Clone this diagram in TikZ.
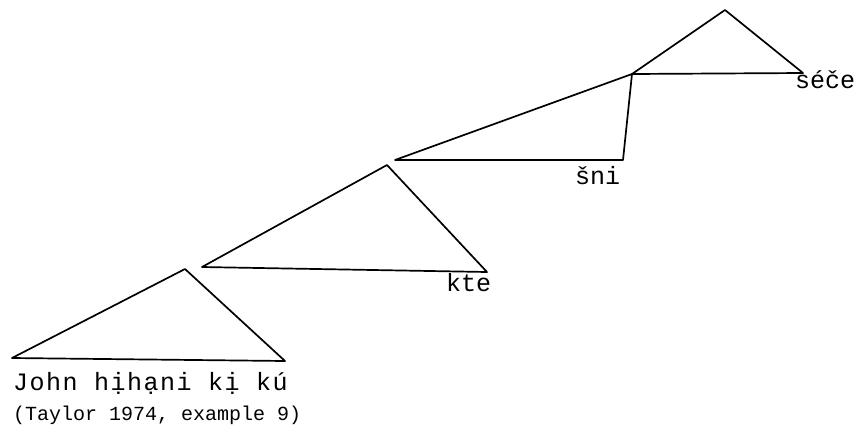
\documentclass[tikz,border=0pt]{standalone}
\usepackage{fontspec}
\setmonofont{Liberation Mono}
\newfontfamily\widemono[LetterSpace=6]{Liberation Mono}
\newfontfamily\plainmono{Liberation Mono}
\tikzset{
  branch/.style={line width=1.7pt, line join=round, line cap=round},
  lbl/.style={inner sep=0pt, anchor=base west, font=\plainmono\fontsize{25}{30}\selectfont},
  widelbl/.style={inner sep=0pt, anchor=base west, font=\widemono\fontsize{25}{30}\selectfont},
  cite/.style={inner sep=0pt, anchor=base west, font=\plainmono\fontsize{20}{24}\selectfont}
}
\begin{document}
\begin{tikzpicture}[x=1pt,y=-1pt]
\useasboundingbox (0,0) rectangle (857,432);
% triangle 1
\coordinate (a1) at (185,269);
\coordinate (l1) at (12,358);
\coordinate (r1) at (285,361);
% triangle 2
\coordinate (a2) at (387,165);
\coordinate (l2) at (202,267);
\coordinate (r2) at (487,272);
% triangle 3
\coordinate (a3) at (632,74);
\coordinate (l3) at (395,160);
\coordinate (r3) at (623,160);
% triangle 4
\coordinate (a4) at (725,10);
\coordinate (r4) at (803,73);

\draw[branch] (l1) -- (a1) -- (r1) -- cycle;
\draw[branch] (l2) -- (a2) -- (r2) -- cycle;
\draw[branch] (l3) -- (a3) -- (r3) -- cycle;
\draw[branch] (a3) -- (a4) -- (r4) -- cycle;

\node[widelbl] (t1) at (13,390) {John hịhạni kị kú};
\node[cite] (t2) at (13,420) {(Taylor 1974, example 9)};
\node[lbl] (kte) at (446,291) {kte};
\node[lbl] (sni) at (575,184) {šni};
\node[lbl] (sece) at (795,88) {séče};
\end{tikzpicture}
\end{document}
